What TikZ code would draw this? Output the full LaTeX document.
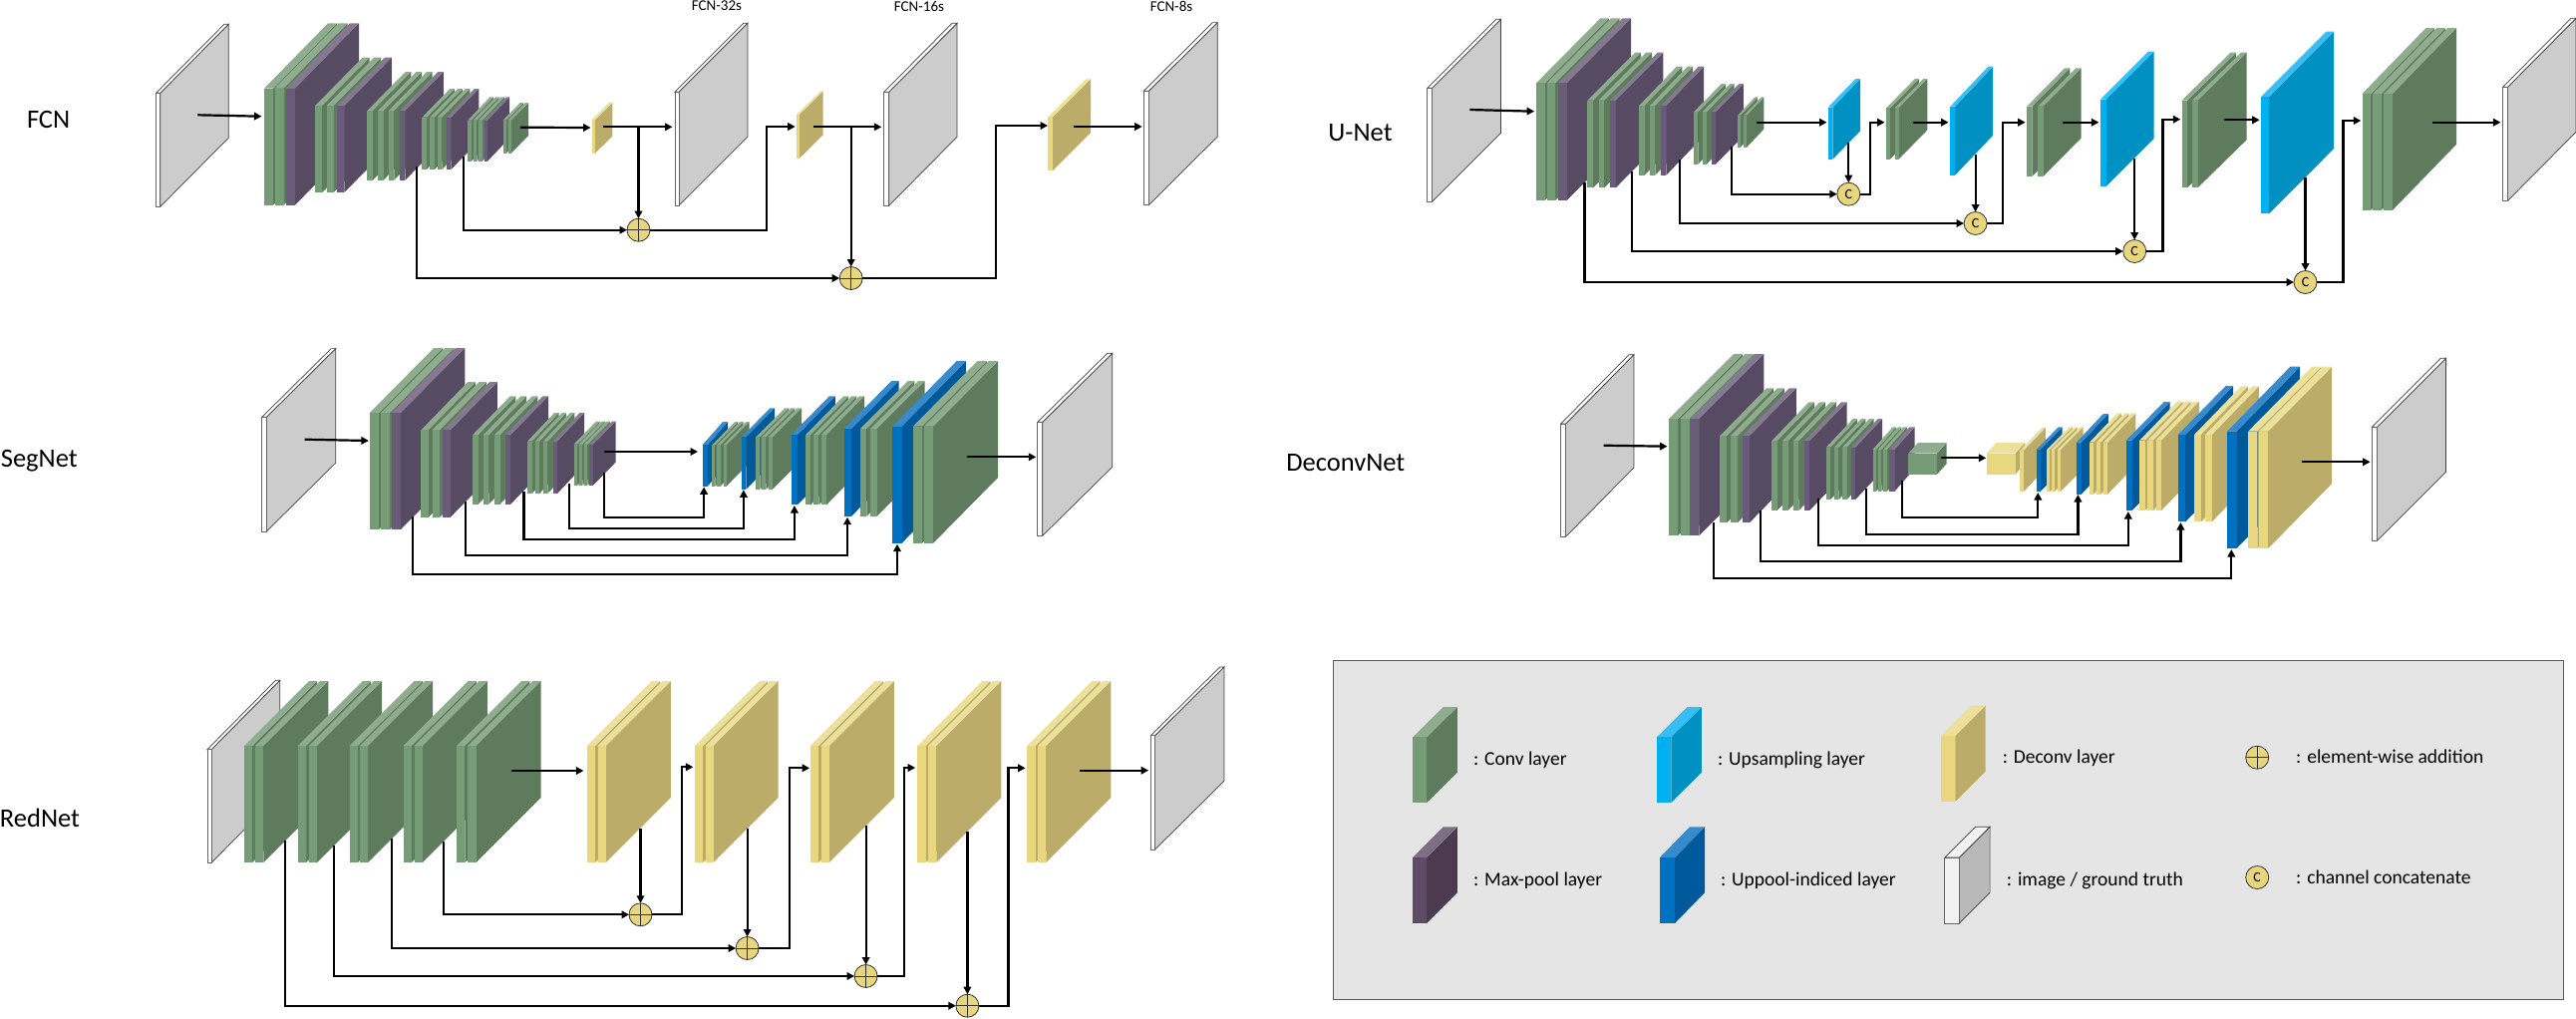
\documentclass[tikz,border=0pt]{standalone}
\usepackage{fontspec}
\setmainfont{Carlito}
\usetikzlibrary{arrows.meta}
\definecolor{grnF}{HTML}{769C77}\definecolor{grnS}{HTML}{5E7C5D}\definecolor{grnT}{HTML}{8FAD8E}
\definecolor{purF}{HTML}{6A5B7B}\definecolor{purS}{HTML}{574B64}\definecolor{purT}{HTML}{857990}
\definecolor{yelF}{HTML}{E8D77F}\definecolor{yelS}{HTML}{BBAD69}\definecolor{yelT}{HTML}{EDE09B}
\definecolor{upsF}{HTML}{00B0F0}\definecolor{upsS}{HTML}{0090C2}\definecolor{upsT}{HTML}{37BFF5}
\definecolor{uppF}{HTML}{0070C0}\definecolor{uppS}{HTML}{00599B}\definecolor{uppT}{HTML}{378BCC}
\definecolor{lpuF}{HTML}{5E4B66}\definecolor{lpuS}{HTML}{4B3A50}\definecolor{lpuT}{HTML}{7F6F85}
\definecolor{imgF}{HTML}{FFFFFF}\definecolor{imgS}{HTML}{CCCCCC}\definecolor{imgT}{HTML}{FFFFFF}
\definecolor{limF}{HTML}{F2F2F2}\definecolor{limS}{HTML}{B9B9B9}\definecolor{limT}{HTML}{F2F2F2}
\definecolor{opfill}{HTML}{E8D67E}
\definecolor{panel}{HTML}{E5E5E5}
\tikzset{
  face/.style={rectangle,inner sep=0pt,outer sep=0pt},
  conn/.style={line width=2.2pt,-{Triangle[length=7.5pt,width=7.5pt]},line join=miter,black},
  opnode/.style={circle,draw=black!80,line width=0.8pt,fill=opfill,minimum size=23pt,inner sep=0pt,outer sep=0pt,font=\fontsize{14}{14}\selectfont},
  netlabel/.style={font=\fontsize{26.5}{26.5}\selectfont,inner sep=0pt},
  toplabel/.style={font=\fontsize{15}{15}\selectfont,inner sep=0pt},
  legtext/.style={font=\fontsize{19.5}{20}\selectfont,inner sep=0pt,anchor=west,text height=13pt,text depth=4pt},
}
% prefix family top bot w dx dy xs
\newcommand\stack[8]{%
  \foreach \xx [count=\ii] in {#8} {%
    \pgfmathsetmacro\hh{#4-#3}%
    \fill[#2S] (\xx+#5,#3) -- ++(#6,-#7) -- ++(0,\hh) -- ++(-#6,#7) -- cycle;
    \fill[#2T] (\xx,#3) -- ++(#6,-#7) -- ++(#5,0) -- ++(-#6,#7) -- cycle;
    \node[face,minimum width=#5pt,minimum height=\hh pt,fill=#2F,anchor=north west] (#1-\ii) at (\xx,#3) {};
  }%
}
% name family top bot w dx dy x
\newcommand\plate[8]{%
  \pgfmathsetmacro\hh{#4-#3}%
  \filldraw[fill=#2S,draw=black!75,line width=0.7pt] (#8+#5,#3) -- ++(#6,-#7) -- ++(0,\hh) -- ++(-#6,#7) -- cycle;
  \filldraw[fill=#2T,draw=black!75,line width=0.7pt] (#8,#3) -- ++(#6,-#7) -- ++(#5,0) -- ++(-#6,#7) -- cycle;
  \node[face,draw=black!60,line width=0.7pt,minimum width=#5pt,minimum height=\hh pt,fill=#2F,anchor=north west] (#1) at (#8,#3) {};
}
\newcommand\addop[3]{%
  \node[opnode] (#1) at (#2,#3) {};
  \draw[black!80,line width=0.8pt] (#1.north) -- (#1.south) (#1.west) -- (#1.east);
}
\begin{document}
\begin{tikzpicture}[x=1pt,y=-1pt]
\useasboundingbox (0,0) rectangle (2584,1021);

% ===== FCN =====
\node[netlabel] (lfcn) at (48.6,120) {FCN};
\node[toplabel] (l32) at (719,6) {FCN-32s};
\node[toplabel] (l16) at (922,6) {FCN-16s};
\node[toplabel] (l8) at (1175,6) {FCN-8s};
\plate{fin}{img}{93.3}{207.3}{4.3}{68.4}{69}{156.5}
\stack{fa}{grn}{88.7}{205.7}{9}{64}{65.4}{265,275.5}
\stack{fb}{pur}{88.7}{205.7}{9}{64}{65.4}{287}
\stack{fc}{grn}{106}{193}{7}{47.5}{48.3}{316.2,327.7}
\stack{fd}{pur}{106}{193}{7}{47.5}{48.3}{338.4}
\stack{fe}{grn}{111}{180.7}{5.5}{38.4}{39}{368.4,379.1,389.8}
\stack{ff}{pur}{111}{180.7}{5.5}{38.4}{39}{400.9}
\stack{fg}{grn}{117.7}{170}{4.5}{28}{28.7}{423.4,431.3,438.8}
\stack{fh}{pur}{117.7}{170}{4.5}{28}{28.7}{447.9}
\stack{fi}{grn}{120.7}{161.7}{3.5}{22.2}{23.4}{469.3,474.8,480.3}
\stack{fj}{pur}{120.7}{161.7}{3.5}{22.2}{23.4}{485.5}
\stack{fk}{grn}{120.7}{153.7}{3.2}{17.2}{17.7}{504.5,509.6}
\stack{fy1}{yel}{120}{153.7}{3.2}{17.4}{17.3}{593.8}
\plate{f32}{img}{92.3}{206.3}{4}{69}{69}{676.9}
\stack{fy2}{yel}{115}{159}{2.7}{24}{23.7}{799}
\plate{f16}{img}{92.3}{206.3}{5}{68.3}{69}{886.7}
\stack{fy3}{yel}{117.3}{171}{4.7}{38}{38}{1051.3}
\plate{f8}{img}{91.3}{205.7}{5}{69}{68.7}{1147.3}
\addop{fo1}{640.5}{230.7}
\addop{fo2}{853.7}{279}
\coordinate (fp1) at (198.4,115.3); \coordinate (fq1) at (262.5,116.7);
\coordinate (fp2) at (521.9,127.7); \coordinate (fq2) at (592.6,128);
\coordinate (fp3) at (605.3,127.3); \coordinate (fq3) at (674.5,127.3);
\coordinate (fv1) at (640.5,127.3);
\coordinate (fs1) at (465.3,156.7);
\coordinate (fs2) at (417.9,166.7);
\coordinate (fq4) at (797.7,127);
\coordinate (fp5) at (816,127.3); \coordinate (fq5) at (884.3,127.3);
\coordinate (fv2) at (853.7,127.3);
\coordinate (fq6) at (1051,126);
\coordinate (fp7) at (1076.7,127); \coordinate (fq7) at (1145.7,127);
\draw[conn] (fp1) -- (fq1);
\draw[conn] (fp2) -- (fq2);
\draw[conn] (fp3) -- (fq3);
\draw[conn] (fv1) -- (fo1.north);
\draw[conn] (fs1) |- (fo1.west);
\draw[conn] (fs2) |- (fo2.west);
\draw[conn] (fo1.east) -- ++(117.3,0) |- (fq4);
\draw[conn] (fp5) -- (fq5);
\draw[conn] (fv2) -- (fo2.north);
\draw[conn] (fo2.east) -- ++(133.5,0) |- (fq6);
\draw[conn] (fp7) -- (fq7);

% ===== U-Net =====
\node[netlabel] (lunet) at (1364.5,133.5) {U-Net};
\plate{uin}{img}{88.3}{202.3}{4.8}{68.9}{69}{1431.8}
\stack{ua}{grn}{83.3}{201}{8.5}{64.4}{65}{1541,1551.7}
\stack{ub}{pur}{83.3}{201}{8.5}{64.4}{65}{1563.2}
\stack{uc}{grn}{100.7}{188.3}{5.7}{47.7}{48}{1592.4,1603.5}
\stack{ud}{pur}{100.7}{188.3}{5.7}{47.7}{48}{1615}
\stack{ue}{grn}{106}{175.7}{5.4}{37.7}{39.3}{1644.2,1654.9}
\stack{uf}{pur}{106}{175.7}{5.4}{37.7}{39.3}{1666}
\stack{ug}{grn}{112.3}{164.7}{4.3}{27.8}{28.3}{1699,1707.5}
\stack{uh}{pur}{112.3}{164.7}{4.3}{27.8}{28.3}{1716.7}
\stack{ui}{grn}{115.7}{147.7}{2.8}{17.3}{18.3}{1743,1749.3}
\stack{uu1}{ups}{107.7}{159.7}{4.8}{27.8}{28.7}{1833.6}
\stack{uj}{grn}{108.3}{159.7}{3.9}{28.8}{29.3}{1892.1,1900.6}
\stack{uu2}{ups}{106.7}{175.7}{4.8}{38}{40}{1956.4}
\stack{uk}{grn}{106.7}{177}{5.2}{38}{38.4}{2033.1,2044.3}
\stack{uu3}{ups}{99.7}{187}{5.6}{48}{48}{2106.9}
\stack{ul}{grn}{100.7}{188.3}{5.6}{49}{48}{2188.5,2198.9}
\stack{uu4}{ups}{97}{214.3}{7.8}{65.2}{65.3}{2268.2}
\stack{um}{grn}{94}{210.7}{8.7}{64}{66}{2369.5,2380.3,2391.4}
\plate{uout}{img}{87.3}{201.3}{4.9}{68.5}{69}{2510.6}
\node[opnode] (uo1) at (1854.3,194.7) {C};
\node[opnode] (uo2) at (1981.6,224) {C};
\node[opnode] (uo3) at (2141.2,252) {C};
\node[opnode] (uo4) at (2312.5,283) {C};
\coordinate (up1) at (1474.4,110); \coordinate (uq1) at (1539.1,111.7);
\coordinate (up2) at (1762.2,122.7); \coordinate (uq2) at (1832.5,122.7);
\coordinate (uv1) at (1854.3,142.7);
\coordinate (us1) at (1737,146.7);
\coordinate (uq3) at (1890.6,122.7);
\coordinate (up4) at (1918.7,122.7); \coordinate (uq4) at (1954.6,122.7);
\coordinate (uv2) at (1981.6,155);
\coordinate (us2) at (1685.3,160);
\coordinate (us3) at (1637.2,171.7);
\coordinate (us4) at (1589.4,182.7);
\coordinate (uq5) at (2031.7,122.7);
\coordinate (up6) at (2069.3,122.7); \coordinate (uq6) at (2105.4,122.7);
\coordinate (uv3) at (2141.2,159.3);
\coordinate (uq7) at (2187.3,119.7);
\coordinate (up8) at (2230.5,120.3); \coordinate (uq8) at (2266.7,120.3);
\coordinate (uv4) at (2312.5,178.3);
\coordinate (uq9) at (2368.3,121);
\coordinate (up10) at (2439.8,122.7); \coordinate (uq10) at (2508.4,122.7);
\draw[conn] (up1) -- (uq1);
\draw[conn] (up2) -- (uq2);
\draw[conn] (uv1) -- (uo1.north);
\draw[conn] (us1) |- (uo1.west);
\draw[conn] (uo1.east) -- ++(10.4,0) |- (uq3);
\draw[conn] (up4) -- (uq4);
\draw[conn] (uv2) -- (uo2.north);
\draw[conn] (us2) |- (uo2.west);
\draw[conn] (us3) |- (uo3.west);
\draw[conn] (us4) |- (uo4.west);
\draw[conn] (uo2.east) -- ++(16.2,0) |- (uq5);
\draw[conn] (up6) -- (uq6);
\draw[conn] (uv3) -- (uo3.north);
\draw[conn] (uo3.east) -- ++(16.8,0) |- (uq7);
\draw[conn] (up8) -- (uq8);
\draw[conn] (uv4) -- (uo4.north);
\draw[conn] (uo4.east) -- ++(26.5,0) |- (uq9);
\draw[conn] (up10) -- (uq10);

% ===== SegNet =====
\node[netlabel] (lseg) at (39.3,461.7) {SegNet};
\plate{sin}{img}{418.3}{533}{4.5}{69.4}{68.7}{262.8}
\stack{sa}{grn}{414}{531}{9.1}{64.3}{65}{370.9,382.1}
\stack{sb}{pur}{414}{531}{9.1}{64.3}{65}{392.9}
\stack{sc}{grn}{431.3}{518.7}{7.5}{47}{48.3}{422.4,433.7}
\stack{sd}{pur}{431.3}{518.7}{7.5}{47}{48.3}{444.4}
\stack{se}{grn}{436.3}{505.7}{5.6}{37.8}{39}{474,484.7,495.9}
\stack{sf}{pur}{436.3}{505.7}{5.6}{37.8}{39}{506.6}
\stack{sg}{grn}{442.7}{495}{4.4}{27}{28.7}{529.1,536.7,544.9}
\stack{sh}{pur}{442.7}{495}{4.4}{27}{28.7}{554.6}
\stack{si}{grn}{445.7}{486.7}{3.7}{22.5}{23}{575.5,580.6,585.7}
\stack{sj}{pur}{445.7}{486.7}{3.7}{22.5}{23}{591.3}
\stack{su1}{upp}{446.3}{487.7}{5}{20.5}{23.3}{704.6}
\stack{sk}{grn}{446.3}{487.7}{3.1}{23}{23.3}{714.3,719.4,725.5}
\stack{su2}{upp}{438.3}{490.7}{4.5}{28.6}{29}{743.9}
\stack{sl}{grn}{438.3}{490.7}{4.1}{29}{29}{758.2,764.3,770.9}
\stack{su3}{upp}{436}{506.3}{6}{38}{38.7}{793.9}
\stack{sm}{grn}{436}{506.3}{5}{38}{38.7}{808.2,816.3,824}
\stack{su4}{upp}{430}{517.7}{7.2}{47.4}{48}{846.9}
\stack{sn}{grn}{430}{517.7}{6.6}{48}{48}{862.8,873}
\stack{su5}{upp}{427.7}{544.7}{9.2}{64.3}{65.7}{895.4}
\stack{so}{grn}{427.7}{544.7}{9.2}{64.8}{65.7}{915.8,927}
\plate{sout}{img}{423.3}{537.3}{5}{70}{69}{1040.8}
\coordinate (sp1) at (305.6,440.7); \coordinate (sq1) at (369.9,442);
\coordinate (sp2) at (606.1,453); \coordinate (sq2) at (700,453);
\coordinate (sp3) at (969.9,458.3); \coordinate (sq3) at (1039.3,458.3);
\coordinate (ssa) at (606.1,474); \coordinate (sta) at (706.1,488.3);
\coordinate (ssb) at (570.9,485); \coordinate (stb) at (745.9,491.3);
\coordinate (ssc) at (525.5,492.7); \coordinate (stc) at (796.9,507);
\coordinate (ssd) at (466.8,502.7); \coordinate (std) at (850,518.7);
\coordinate (sse) at (414.3,518.3); \coordinate (ste) at (900,545.7);
\draw[conn] (sp1) -- (sq1);
\draw[conn] (sp2) -- (sq2);
\draw[conn] (sp3) -- (sq3);
\draw[conn] (ssa) -- ++(0,45) -| (sta);
\draw[conn] (ssb) -- ++(0,45) -| (stb);
\draw[conn] (ssc) -- ++(0,48.6) -| (stc);
\draw[conn] (ssd) -- ++(0,54.3) -| (std);
\draw[conn] (sse) -- ++(0,57.4) -| (ste);

% ===== DeconvNet =====
\node[netlabel] (ldec) at (1349.8,464.3) {DeconvNet};
\plate{din}{img}{425}{538.3}{4.9}{68.3}{69.3}{1565.7}
\stack{da}{grn}{420}{537.3}{9}{65}{65}{1674.1,1685.5}
\stack{db}{pur}{420}{537.3}{9}{65}{65}{1695.3}
\stack{dc}{grn}{437.3}{524.3}{7}{47}{48}{1725.1,1735.9}
\stack{dd}{pur}{437.3}{524.3}{7}{47}{48}{1747.8}
\stack{de}{grn}{442.3}{512}{5.6}{37.4}{39}{1777.1,1787.9,1798.8}
\stack{df}{pur}{442.3}{512}{5.6}{37.4}{39}{1809.6}
\stack{dg}{grn}{448.7}{501}{4.4}{27}{28.7}{1831.8,1840,1848.1}
\stack{dh}{pur}{448.7}{501}{4.4}{27}{28.7}{1856.8}
\stack{di}{grn}{451}{492.7}{3.5}{20}{22.7}{1878.5,1883.9,1889.3}
\stack{dj}{pur}{451}{492.7}{5.2}{20}{22.7}{1895.3}
\stack{dcg}{grn}{454.7}{475.7}{28.8}{9.7}{10.7}{1914.2}
\stack{dcy}{yel}{454.7}{475.7}{28.7}{9.8}{10.7}{1992.8}
\stack{dy0}{yel}{451.7}{493}{3.5}{22}{23}{2026.4}
\stack{du1}{upp}{451}{493}{4}{22}{22.7}{2042.7}
\stack{dk}{yel}{451}{493}{3}{22.8}{22.7}{2053,2057.9,2063.8}
\stack{du2}{upp}{443.7}{495.7}{5}{27}{28.7}{2082.8}
\stack{dl}{yel}{443.7}{495.7}{4.2}{28.2}{29.3}{2095.8,2102.9,2109.9}
\stack{du3}{upp}{441.7}{512}{6}{38}{38.7}{2132.7}
\stack{dm}{yel}{441.7}{512}{5.5}{37.8}{39}{2146.2,2154.3,2162.5}
\stack{du4}{upp}{436}{523.3}{7.5}{48}{49}{2184.7}
\stack{dn}{yel}{436}{523.3}{7}{47.2}{48.7}{2201,2211.8}
\stack{du5}{upp}{432.7}{550}{9.5}{63.4}{65}{2234}
\stack{do}{yel}{432.7}{550}{9.2}{64}{65}{2255.1,2266}
\plate{dout}{img}{428.3}{542.3}{5.2}{69}{69}{2379.3}
\coordinate (dp1) at (1608.5,446.7); \coordinate (dq1) at (1672.5,447.7);
\coordinate (dp2) at (1947.3,459.3); \coordinate (dq2) at (1992.3,459.3);
\coordinate (dp3) at (2308.8,463.3); \coordinate (dq3) at (2377.6,463.3);
\coordinate (dsa) at (1907.7,481.7); \coordinate (dta) at (2044.3,494);
\coordinate (dsb) at (1872,490); \coordinate (dtb) at (2084.4,496);
\coordinate (dsc) at (1823.7,500); \coordinate (dtc) at (2134.8,513);
\coordinate (dsd) at (1766.3,511.7); \coordinate (dtd) at (2187.4,524);
\coordinate (dse) at (1719.1,524); \coordinate (dte) at (2238.3,551);
\draw[conn] (dp1) -- (dq1);
\draw[conn] (dp2) -- (dq2);
\draw[conn] (dp3) -- (dq3);
\draw[conn] (dsa) -- ++(0,37) -| (dta);
\draw[conn] (dsb) -- ++(0,46) -| (dtb);
\draw[conn] (dsc) -- ++(0,47) -| (dtc);
\draw[conn] (dsd) -- ++(0,51.3) -| (dtd);
\draw[conn] (dse) -- ++(0,56.3) -| (dte);

% ===== RedNet =====
\node[netlabel] (lred) at (40,820.5) {RedNet};
\plate{rin}{img}{751.7}{865.3}{4.2}{68.6}{69.4}{207.9}
\stack{ra}{grn}{748}{865}{8.2}{65}{65}{245,256.1}
\stack{rb}{grn}{748}{865}{8.2}{65}{65}{298.9,310}
\stack{rc}{grn}{748}{865}{8.2}{65}{65}{350.7,361}
\stack{rd}{grn}{748}{865}{8.2}{65}{65}{404.6,415.7}
\stack{re}{grn}{748}{865}{8.2}{65}{65}{458.2,469.3}
\stack{rf}{yel}{748}{865}{8.2}{65}{65}{588.9,599.6}
\stack{rg}{yel}{748}{865}{8.2}{65}{65}{696.8,707.5}
\stack{rh}{yel}{748}{865}{8.2}{65}{65}{812.9,823.6}
\stack{ri}{yel}{748}{865}{8.2}{65}{65}{920.4,931.1}
\stack{rj}{yel}{748}{865}{8.2}{65}{65}{1030.4,1041.1}
\plate{rout}{img}{737.7}{852}{4.3}{69.3}{68.7}{1154.3}
\addop{ro1}{642.5}{917.3}
\addop{ro2}{749.6}{951}
\addop{ro3}{868.6}{979}
\addop{ro4}{970.4}{1008.7}
\coordinate (rp1) at (512.9,773); \coordinate (rq1) at (585.4,773);
\coordinate (rv1) at (642.5,830.7);
\coordinate (rs1) at (445,844);
\coordinate (rq2) at (695.4,769.3);
\coordinate (rs2) at (393.2,840.7);
\coordinate (rs3) at (335,848.3);
\coordinate (rs4) at (286.1,843.3);
\coordinate (rv2) at (749.6,831);
\coordinate (rq3) at (812.1,770.3);
\coordinate (rv3) at (868.6,827.7);
\coordinate (rq4) at (918.2,770);
\coordinate (rv4) at (970.4,833.7);
\coordinate (rq5) at (1028.6,770.3);
\coordinate (rp6) at (1083.2,772.7); \coordinate (rq6) at (1152.1,772.7);
\draw[conn] (rp1) -- (rq1);
\draw[conn] (rv1) -- (ro1.north);
\draw[conn] (rs1) |- (ro1.west);
\draw[conn] (ro1.east) -- ++(29.9,0) |- (rq2);
\draw[conn] (rs2) |- (ro2.west);
\draw[conn] (rs3) |- (ro3.west);
\draw[conn] (rs4) |- (ro4.west);
\draw[conn] (rv2) -- (ro2.north);
\draw[conn] (ro2.east) -- ++(30.7,0) |- (rq3);
\draw[conn] (rv3) -- (ro3.north);
\draw[conn] (ro3.east) -- ++(26.7,0) |- (rq4);
\draw[conn] (rv4) -- (ro4.north);
\draw[conn] (ro4.east) -- ++(29.5,0) |- (rq5);
\draw[conn] (rp6) -- (rq6);

% ===== Legend =====
\node[face,draw=black!65,line width=1pt,fill=panel,anchor=north west,minimum width=1233.8pt,minimum height=339.3pt] (legend) at (1337.2,662.7) {};
\stack{lc}{grn}{739.3}{805}{14}{30.6}{30.3}{1417.2}
\stack{lu}{ups}{739.3}{805}{14.4}{30.6}{30.3}{1661.9}
\stack{ld}{yel}{738}{804}{14.2}{30.3}{30.3}{1947.1}
\stack{lm}{lpu}{860}{926}{14}{30.6}{30.7}{1417.2}
\stack{lp}{upp}{860}{926}{15}{30}{30.7}{1665}
\plate{li}{lim}{860}{926}{14.6}{30.7}{30.7}{1950.8}
\addop{loa}{2264.2}{759.7}
\node[opnode] (loc) at (2264.2,880) {C};
\node[legtext] (t1) at (1477.9,762.5) {: Conv layer};
\node[legtext] (t2) at (1722.9,762.5) {: Upsampling layer};
\node[legtext] (t3) at (2008.6,761) {: Deconv layer};
\node[legtext] (t4) at (2303,761) {: element-wise addition};
\node[legtext] (t5) at (1477.9,883.5) {: Max-pool layer};
\node[legtext] (t6) at (1725.8,883.5) {: Uppool-indiced layer};
\node[legtext] (t7) at (2012.7,883.5) {: image / ground truth};
\node[legtext] (t8) at (2303,881.5) {: channel concatenate};
\end{tikzpicture}
\end{document}
